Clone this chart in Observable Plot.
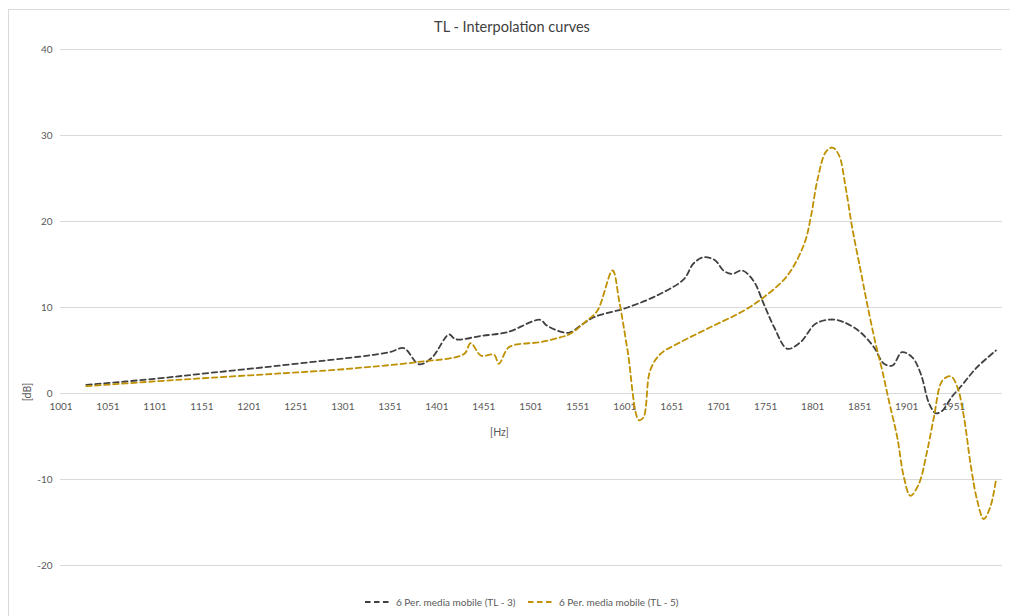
<!DOCTYPE html>
<html>
<head>
<meta charset="utf-8">
<script src="https://cdn.jsdelivr.net/npm/d3@7"></script>
<script src="https://cdn.jsdelivr.net/npm/@observablehq/plot@0.6"></script>
<style>
  html, body { margin: 0; padding: 0; background: #fff; }
  body { width: 1010px; height: 616px; overflow: hidden; position: relative;
         font-family: Lato, "Open Sans", "Liberation Sans", sans-serif; }
  #frame { position: absolute; left: 8px; top: 9px; width: 1100px; height: 700px;
           border-left: 1px solid #d9d9d9; border-top: 1px solid #d9d9d9; }
  #title { position: absolute; left: 0; width: 1024px; top: 18px; text-align: center;
           font-size: 14.5px; line-height: 18px; color: #404040; }
  #chart { position: absolute; left: 0; top: 40px; }
  .axlab { position: absolute; font-size: 10.5px; color: #595959; }
  #ylab { left: 18px; top: 386px; transform: rotate(-90deg); transform-origin: center; }
  #xlab { left: 490px; top: 426px; }
  #legend { position: absolute; top: 595px; left: 0; width: 1010px; font-size: 10px; color: #595959; }
  .li { position: absolute; display: flex; align-items: center; white-space: nowrap; }
  .li svg { margin-right: 7px; }
</style>
</head>
<body>
<div id="frame"></div>
<div id="title">TL - Interpolation curves</div>
<div id="chart"></div>
<div class="axlab" id="ylab">[dB]</div>
<div class="axlab" id="xlab">[Hz]</div>
<div id="legend"></div>
<script>
// ---- data ----
const seriesNames = ["6 Per. media mobile (TL - 3)", "6 Per. media mobile (TL - 5)"];
const seriesColors = ["#404040", "#BF9000"];

const hzTL3 = [1028, 1100, 1160, 1230, 1298, 1320, 1334, 1352, 1366, 1382, 1396, 1414, 1421, 1448, 1476, 1511, 1518, 1541, 1554, 1568, 1604, 1639, 1664, 1674, 1685, 1697, 1706, 1715, 1726, 1738, 1749, 1760, 1774, 1788, 1804, 1820, 1834, 1852, 1866, 1877, 1886, 1896, 1907, 1916, 1925, 1932, 1939, 1949, 1958, 1976, 1996];
const valTL3 = [1.0, 1.7, 2.4, 3.2, 4.03, 4.3, 4.5, 4.85, 5.27, 3.4, 4.2, 6.86, 6.3, 6.7, 7.13, 8.57, 7.9, 7.05, 7.9, 8.87, 10.0, 11.6, 13.3, 15.1, 15.85, 15.5, 14.3, 13.9, 14.3, 13.1, 10.4, 7.7, 5.2, 5.97, 8.1, 8.6, 8.3, 7.1, 5.4, 3.45, 3.26, 4.8, 4.2, 2.3, -1.2, -2.3, -2.0, -0.4, 0.73, 3.06, 5.0];

const hzTL5 = [1028, 1100, 1160, 1230, 1298, 1320, 1380, 1430, 1437, 1448, 1462, 1467, 1478, 1511, 1533, 1543, 1561, 1572, 1588, 1595, 1604, 1616, 1621, 1628, 1639, 1657, 1692, 1728, 1749, 1774, 1792, 1799, 1806, 1815, 1822, 1829, 1836, 1843, 1852, 1859, 1868, 1875, 1882, 1891, 1898, 1905, 1914, 1923, 1930, 1939, 1948, 1955, 1962, 1969, 1976, 1983, 1990, 1996];
const valTL5 = [0.85, 1.4, 1.83, 2.3, 2.79, 3.0, 3.65, 4.6, 5.85, 4.4, 4.5, 3.45, 5.4, 5.97, 6.55, 6.94, 8.5, 9.65, 14.3, 10.8, 5.0, -3.1, -2.76, 2.67, 4.6, 5.78, 7.7, 9.65, 11.2, 13.7, 17.4, 20.5, 24.8, 28.1, 28.6, 27.7, 24.0, 19.3, 14.3, 10.4, 5.78, 2.67, -0.8, -5.1, -9.7, -11.9, -10.5, -6.6, -2.76, 1.5, 2.0, 0.74, -2.76, -8.2, -12.4, -14.6, -13.2, -10.1];

const xTickLabels = [1001, 1051, 1101, 1151, 1201, 1251, 1301, 1351, 1401, 1451, 1501, 1551, 1601, 1651, 1701, 1751, 1801, 1851, 1901, 1951];
const yTicks = [-20, -10, 0, 10, 20, 30, 40];

// ---- table ----
const rows = [
  ...hzTL3.map((h, i) => ({hz: h, v: valTL3[i], s: seriesNames[0]})),
  ...hzTL5.map((h, i) => ({hz: h, v: valTL5[i], s: seriesNames[1]}))
];

const chart = Plot.plot({
  width: 1010,
  height: 545,
  marginLeft: 60,
  marginRight: 8,
  marginTop: 9,
  marginBottom: 20,
  style: {fontFamily: 'Lato, "Open Sans", sans-serif', fontSize: "10px", color: "#595959", background: "transparent"},
  x: {type: "linear", domain: [1000.5, 2003], axis: null},
  y: {domain: [-20, 40], ticks: yTicks, label: null},
  color: {domain: seriesNames, range: seriesColors},
  marks: [
    Plot.ruleY(yTicks, {stroke: "#d9d9d9", strokeWidth: 1}),
    Plot.axisY({ticks: yTicks, tickSize: 0, tickPadding: 8, label: null, fill: "#595959", tickFormat: d => String(d)}),
    Plot.text(xTickLabels, {x: d => d, y: () => 0, dy: 13, text: d => String(d), fill: "#595959", fontSize: 10}),
    Plot.line(rows, {x: "hz", y: "v", z: "s", stroke: "s", strokeWidth: 1.8,
      strokeDasharray: "5.5,3.5", curve: "catmull-rom"})
  ]
});
document.getElementById("chart").appendChild(chart);

// ---- legend ----
const legend = document.getElementById("legend");
const legendLefts = [365, 528];
seriesNames.forEach((name, i) => {
  const item = document.createElement("div");
  item.className = "li";
  item.style.left = legendLefts[i] + "px";
  item.innerHTML = `<svg width="24" height="14"><line x1="0" x2="24" y1="7" y2="7" stroke="${seriesColors[i]}" stroke-width="1.8" stroke-dasharray="5.5,3.5"/></svg><span>${name}</span>`;
  legend.appendChild(item);
});
</script>
</body>
</html>
